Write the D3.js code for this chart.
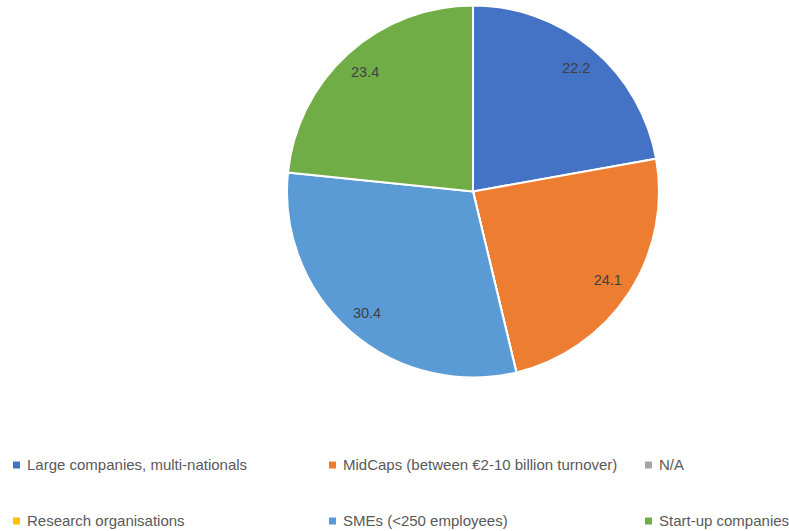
<!DOCTYPE html>
<html>
<head>
<meta charset="utf-8">
<script src="https://cdn.jsdelivr.net/npm/d3@7"></script>
<style>
  body { margin: 0; background: #fff; }
  text { font-family: "Liberation Sans", Arial, sans-serif; }
</style>
</head>
<body>
<div id="chart"></div>
<script>
// data
var categories = ["Large companies, multi-nationals", "MidCaps (between €2-10 billion turnover)", "N/A",
                  "Research organisations", "SMEs (<250 employees)", "Start-up companies"],
    values = [22.2, 24.1, 0, 0, 30.4, 23.4],
    colors = ["#4472C4", "#ED7D31", "#A5A5A5", "#FFC000", "#5B9BD5", "#70AD47"];

var width = 789,
	height = 531,
	cx = 473,
	cy = 191.5,
	radius = 186,
	svg = d3.select("#chart")
	.append("svg")
	.attr("width", width)
	.attr("height", height);

var rows = categories.map(function(c, i) { return {name: c, value: values[i], color: colors[i]}; });

var pie = d3.pie()
	.sort(null)
	.value(function(d) { return d.value; });

var arc = d3.arc()
	.innerRadius(0)
	.outerRadius(radius);

var labelArc = d3.arc()
	.innerRadius(161)
	.outerRadius(161);

var g = svg.append("g")
	.attr("transform", "translate(" + cx + "," + cy + ")");

var arcs = pie(rows);

g.selectAll("path")
	.data(arcs)
	.enter()
	.append("path")
	.attr("d", arc)
	.style("fill", function(d) { return d.data.color; })
	.style("stroke", "#fff")
	.style("stroke-width", 2);

g.selectAll(".label")
	.data(arcs.filter(function(d) { return d.value > 0; }))
	.enter()
	.append("text")
	.attr("class", "label")
	.attr("transform", function(d) { return "translate(" + labelArc.centroid(d) + ")"; })
	.attr("text-anchor", "middle")
	.attr("dy", "0.35em")
	.style("font-size", "14.5px")
	.style("fill", "#404040")
	.text(function(d) { return d.data.value.toFixed(1); });

// legend, 3 columns
var colX = d3.scalePoint().domain([0, 1, 2]).range([13, 645]),
	rowY = d3.scalePoint().domain([0, 1]).range([465, 521]);

var legend = svg.append("g")
	.selectAll("g")
	.data(rows)
	.enter()
	.append("g")
	.attr("transform", function(d, i) { return "translate(" + colX(i % 3) + "," + rowY(Math.floor(i / 3)) + ")"; });

legend.append("rect")
	.attr("x", 0)
	.attr("y", -3.5)
	.attr("width", 7)
	.attr("height", 7)
	.style("fill", function(d) { return d.color; });

legend.append("text")
	.attr("x", 14)
	.attr("dy", "0.35em")
	.style("font-size", "15px")
	.style("fill", "#595959")
	.text(function(d) { return d.name; });
</script>
</body>
</html>
